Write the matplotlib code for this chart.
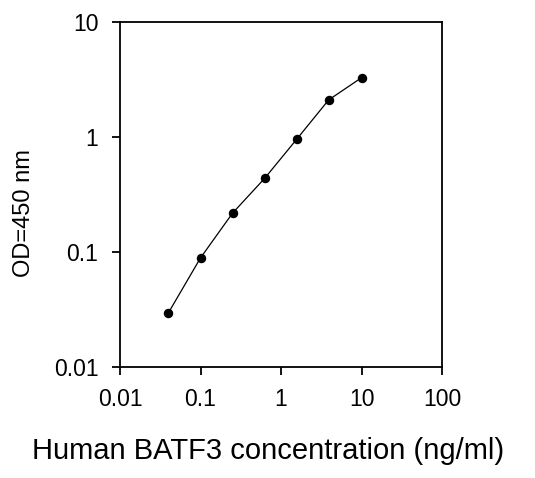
import matplotlib
matplotlib.use("Agg")
import matplotlib.pyplot as plt
from matplotlib.ticker import FixedLocator, FixedFormatter, NullLocator

# standard curve
conc = [0.04, 0.1, 0.25, 0.625, 1.56, 3.9, 10]
od = [0.0297, 0.089, 0.218, 0.437, 0.954, 2.10, 3.28]

xticks = [0.01, 0.1, 1, 10, 100]
xlabels = ["0.01", "0.1", "1", "10", "100"]
yticks = [0.01, 0.1, 1, 10]
ylabels = ["0.01", "0.1", "1", "10"]

plt.rcParams["font.family"] = ["Liberation Sans", "DejaVu Sans"]

fig = plt.figure(figsize=(5.35, 4.78), dpi=100)
ax = fig.add_axes([0.2243, 0.232, 0.602, 0.722])

ax.plot(conc, od, color="black", lw=0.9, marker="o", ms=5.8, mfc="black", mec="black")

ax.set_xscale("log")
ax.set_yscale("log")
ax.set_xlim(0.01, 100)
ax.set_ylim(0.01, 10)

ax.xaxis.set_major_locator(FixedLocator(xticks))
ax.xaxis.set_major_formatter(FixedFormatter(xlabels))
ax.yaxis.set_major_locator(FixedLocator(yticks))
ax.yaxis.set_major_formatter(FixedFormatter(ylabels))
ax.xaxis.set_minor_locator(NullLocator())
ax.yaxis.set_minor_locator(NullLocator())

ax.tick_params(direction="out", length=6, width=1.3, labelsize=16.5)
ax.tick_params(axis="x", pad=9)
ax.tick_params(axis="y", pad=9.5)
for s in ax.spines.values():
    s.set_linewidth(1.3)

# axis titles placed where they sit in the original
fig.text(268 / 535, 1 - 451 / 478, "Human BATF3 concentration (ng/ml)",
         fontsize=21, ha="center", va="center")
fig.text(24 / 535, 1 - 213 / 478, "OD=450 nm", fontsize=17,
         rotation=90, ha="center", va="center")

fig.savefig("out.png", dpi=100)
